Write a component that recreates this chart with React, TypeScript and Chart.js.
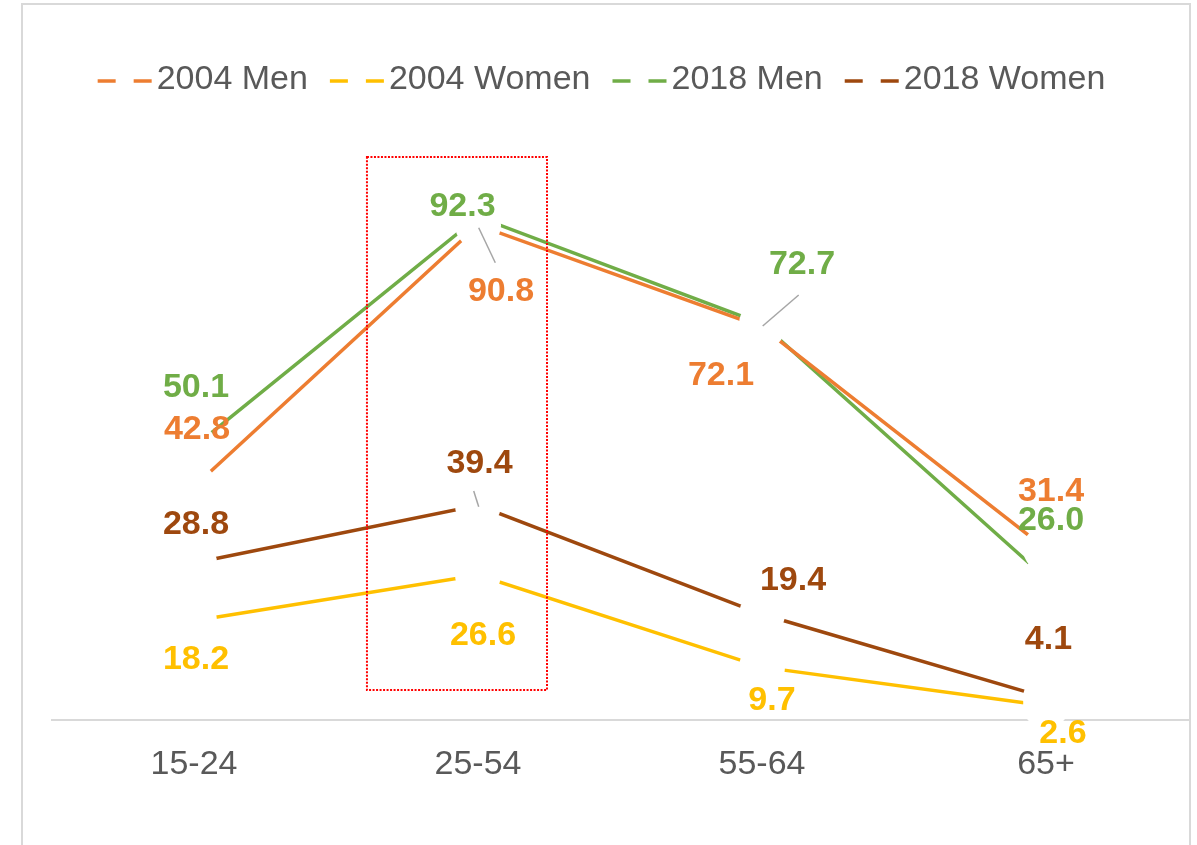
import React, { useEffect, useRef } from "react";
import { Chart, registerables } from "chart.js";

Chart.register(...registerables);

// ---------- data ----------
const categories = ["15-24", "25-54", "55-64", "65+"];
const seriesNames = ["2004 Men", "2004 Women", "2018 Men", "2018 Women"];
const men2004 = [42.8, 90.8, 72.1, 31.4];
const women2004 = [18.2, 26.6, 9.7, 2.6];
const men2018 = [50.1, 92.3, 72.7, 26.0];
const women2018 = [28.8, 39.4, 19.4, 4.1];
const seriesValues = [men2004, women2004, men2018, women2018];

// ---------- styles / label placement ----------
const seriesColors = ["#ED7D31", "#FFC000", "#70AD47", "#9E480E"];
const FONT = "'Liberation Sans', Arial, Helvetica, sans-serif";
const TEXT_GRAY = "#595959";
const AXIS_GRAY = "#D9D9D9";

// data label offsets (px) from each point: [series][category] => [dx, dy]
const labelOffsets: number[][][] = [
  [[3, -57], [23, 66.5], [-41, 49], [5, -57]],
  [[2, 39], [5, 61], [10, 33], [17, 27.5]],
  [[2, -59], [-15.5, -10.5], [40, -59], [5, -58]],
  [[2, -38], [1.5, -42], [31, -34], [2.5, -58]],
];

// leader lines, offsets relative to a point
const leaderLines = [
  { series: 0, index: 1, from: [17.3, 37.6], to: [0.7, 2.6] },
  { series: 2, index: 2, from: [36.7, -28.8], to: [0.7, 2.2] },
  { series: 3, index: 1, from: [-4.3, -14.3], to: [0.7, 1.4] },
];

// dotted highlight box, in scale units (category index / value)
const highlightBox = { xFrom: 0.609, xTo: 1.243, yFrom: 103.3, yTo: 5.5 };

const markerRadius = 23;

const framePlugin = {
  id: "frame",
  beforeDraw(chart: any) {
    const ctx = chart.ctx;
    ctx.save();
    ctx.fillStyle = "#FFFFFF";
    ctx.fillRect(0, 0, chart.width, chart.height);
    ctx.strokeStyle = AXIS_GRAY;
    ctx.lineWidth = 2;
    ctx.strokeRect(22, 4, chart.width - 29, chart.height + 20);
    ctx.restore();
  },
};

const markerPlugin = {
  id: "whiteMarkers",
  afterDatasetsDraw(chart: any) {
    const ctx = chart.ctx;
    ctx.save();
    ctx.fillStyle = "#FFFFFF";
    chart.data.datasets.forEach((_: any, di: number) => {
      const meta = chart.getDatasetMeta(di);
      meta.data.forEach((pt: any) => {
        ctx.beginPath();
        ctx.arc(pt.x, pt.y, markerRadius, 0, Math.PI * 2);
        ctx.fill();
      });
    });
    ctx.restore();
  },
};

const overlayPlugin = {
  id: "overlay",
  afterDraw(chart: any) {
    const ctx = chart.ctx;
    const xs = chart.scales.x;
    const ys = chart.scales.y;
    ctx.save();

    // dotted highlight rectangle
    const x1 = xs.getPixelForValue(highlightBox.xFrom);
    const x2 = xs.getPixelForValue(highlightBox.xTo);
    const y1 = ys.getPixelForValue(highlightBox.yFrom);
    const y2 = ys.getPixelForValue(highlightBox.yTo);
    ctx.strokeStyle = "#FF0000";
    ctx.lineWidth = 2;
    ctx.setLineDash([2, 1.5]);
    ctx.strokeRect(x1, y1, x2 - x1, y2 - y1);
    ctx.setLineDash([]);

    // leader lines
    ctx.strokeStyle = "#A6A6A6";
    ctx.lineWidth = 1.5;
    leaderLines.forEach((l) => {
      const pt = chart.getDatasetMeta(l.series).data[l.index];
      ctx.beginPath();
      ctx.moveTo(pt.x + l.from[0], pt.y + l.from[1]);
      ctx.lineTo(pt.x + l.to[0], pt.y + l.to[1]);
      ctx.stroke();
    });

    // data labels
    ctx.font = `bold 34px ${FONT}`;
    ctx.textAlign = "center";
    ctx.textBaseline = "middle";
    seriesValues.forEach((vals, si) => {
      const meta = chart.getDatasetMeta(si);
      ctx.fillStyle = seriesColors[si];
      vals.forEach((v, i) => {
        const pt = meta.data[i];
        const off = labelOffsets[si][i];
        ctx.fillText(v.toFixed(1), pt.x + off[0], pt.y + off[1]);
      });
    });

    // legend
    ctx.font = `34px ${FONT}`;
    ctx.textAlign = "left";
    const dash = 18;
    const dashGap = 18;
    const textGap = 5;
    const itemGap = 22;
    const markerW = dash * 2 + dashGap;
    const widths = seriesNames.map((n) => markerW + textGap + ctx.measureText(n).width);
    const total = widths.reduce((a, b) => a + b, 0) + itemGap * (widths.length - 1);
    let x = (chart.width - total) / 2 + 3;
    const ly = 80;
    seriesNames.forEach((n, i) => {
      ctx.strokeStyle = seriesColors[i];
      ctx.lineWidth = 3.5;
      ctx.beginPath();
      ctx.moveTo(x, ly + 1);
      ctx.lineTo(x + dash, ly + 1);
      ctx.moveTo(x + dash + dashGap, ly + 1);
      ctx.lineTo(x + markerW, ly + 1);
      ctx.stroke();
      ctx.fillStyle = TEXT_GRAY;
      ctx.fillText(n, x + markerW + textGap, ly);
      x += widths[i] + itemGap;
    });

    ctx.restore();
  },
};

export default function App() {
  const canvasRef = useRef<HTMLCanvasElement | null>(null);

  useEffect(() => {
    if (!canvasRef.current) return;
    const chart = new Chart(canvasRef.current, {
      type: "line",
      data: {
        labels: categories,
        datasets: seriesValues.map((vals, i) => ({
          label: seriesNames[i],
          data: vals,
          borderColor: seriesColors[i],
          backgroundColor: seriesColors[i],
          borderWidth: 3.5,
          pointRadius: 0,
          pointHoverRadius: 0,
          tension: 0,
          fill: false,
          clip: false as any,
        })),
      },
      options: {
        animation: false,
        responsive: false,
        maintainAspectRatio: false,
        layout: { padding: { top: 175, left: 52, right: 9, bottom: 0 } },
        plugins: {
          legend: { display: false },
          tooltip: { enabled: false },
        },
        scales: {
          x: {
            offset: true,
            grid: { display: false, drawTicks: false },
            border: { display: true, color: AXIS_GRAY, width: 2 },
            ticks: {
              color: TEXT_GRAY,
              font: { family: FONT, size: 34 },
              padding: 24,
              maxRotation: 0,
              autoSkip: false,
            },
            afterFit: (s: any) => {
              s.height = 125;
            },
          },
          y: { display: false, min: 0, max: 100 },
        },
      },
      plugins: [framePlugin, markerPlugin, overlayPlugin],
    });
    return () => chart.destroy();
  }, []);

  return (
    <div style={{ position: "absolute", left: 0, top: 0, width: 1197, height: 845 }}>
      <canvas ref={canvasRef} width={1197} height={845} />
    </div>
  );
}
